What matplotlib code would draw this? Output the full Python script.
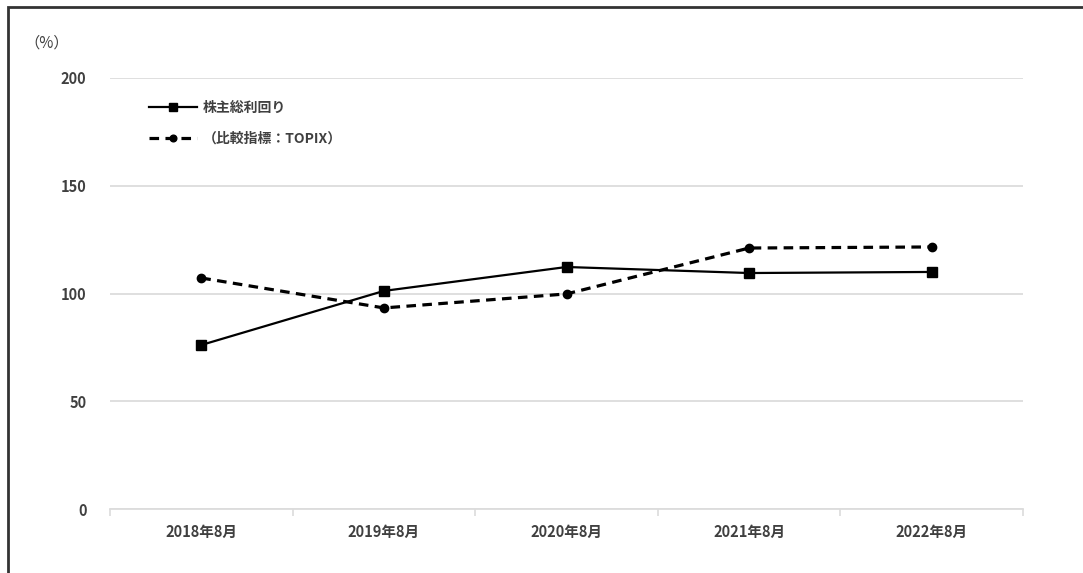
import matplotlib
matplotlib.use("Agg")
import matplotlib.pyplot as plt
from matplotlib.patches import Rectangle
import numpy as np

plt.rcParams['font.family'] = ['Noto Sans CJK JP', 'DejaVu Sans']

categories = ["2018年8月", "2019年8月", "2020年8月", "2021年8月", "2022年8月"]
tsr = [76.1, 101.2, 112.3, 109.5, 110.0]
topix = [107.2, 93.3, 99.8, 121.1, 121.6]
yticks = [0, 50, 100, 150, 200]

fig = plt.figure(figsize=(10.83, 5.73), dpi=100)
ax = fig.add_axes([110 / 1083, 64 / 573, 913 / 1083, 431 / 573])

x = np.arange(len(categories))
ax.plot(x, tsr, color="black", lw=1.6, marker="s", ms=7, label="株主総利回り")
ax.plot(x, topix, color="black", lw=2.3, ls=(0, (3, 2)), marker="o", ms=6,
        label="（比較指標：TOPIX）")

ax.set_xlim(-0.5, len(categories) - 0.5)
ax.set_ylim(0, 200)
ax.set_yticks(yticks)
ax.set_yticklabels([str(v) for v in yticks])
ax.set_xticks(x)
ax.set_xticklabels(categories)
ax.set_xticks(np.arange(-0.5, len(categories)), minor=True)

ax.grid(axis="y", color="#dcdcdc", lw=1.3)
ax.set_axisbelow(True)
for s in ["top", "right", "left"]:
    ax.spines[s].set_visible(False)
ax.spines["bottom"].set_color("#dcdcdc")
ax.spines["bottom"].set_linewidth(1.3)

ax.tick_params(axis="y", length=0, pad=17, labelsize=10.5, labelcolor="#404040")
ax.tick_params(axis="x", which="major", length=0, pad=11, labelsize=10.5,
               labelcolor="#404040")
ax.tick_params(axis="x", which="minor", length=5, width=1.2, color="#dcdcdc")
for lab in ax.get_xticklabels() + ax.get_yticklabels():
    lab.set_fontweight("bold")

leg = ax.legend(loc="upper left", bbox_to_anchor=(26 / 913, 0.975), frameon=False,
                handlelength=3.5, handletextpad=0.4, labelspacing=1.2,
                markerscale=0.8, prop={"size": 10, "weight": "bold"})
for t in leg.get_texts():
    t.set_color("#404040")

fig.text(24 / 1083, 1 - 43 / 573, "（%）", fontsize=11, color="#404040",
         va="center", ha="left")

fig.patches.append(Rectangle((8 / 1083, -0.05), 1.1, 1 - 7 / 573 + 0.05,
                             transform=fig.transFigure, fill=False,
                             edgecolor="#333333", lw=2))

fig.savefig("out.png", dpi=100)
